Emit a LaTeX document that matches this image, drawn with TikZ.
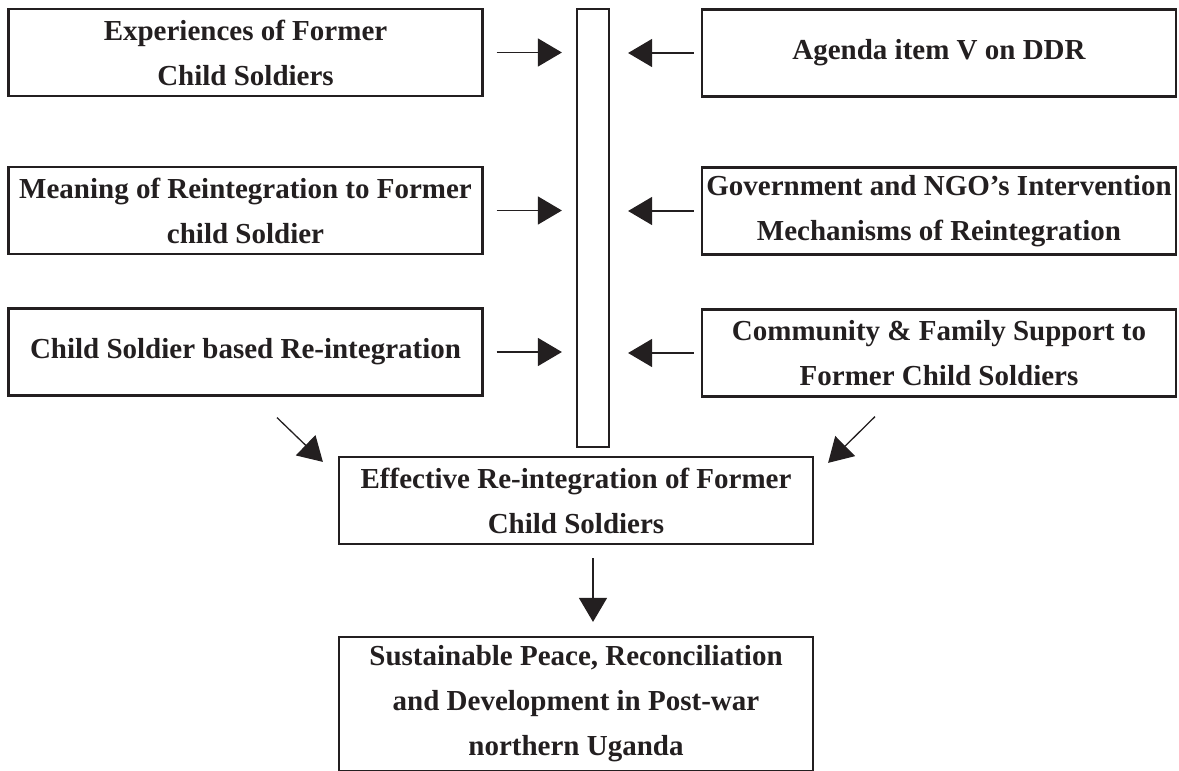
\documentclass[tikz,border=0pt]{standalone}
\usepackage{fontspec}
\setmainfont{Liberation Serif}
\usepackage{xcolor}
\usetikzlibrary{arrows.meta,positioning,calc}

\definecolor{ink}{HTML}{231F20}

\begin{document}
\begin{tikzpicture}[
  x=1pt, y=-1pt,
  box/.style={rectangle, draw=ink, line width=2.2pt, minimum width=474pt, minimum height=87pt, inner sep=2pt,
    text=ink, font=\bfseries\fontsize{29}{45}\selectfont, align=center},
  arrow/.style={-{Triangle[length=24pt,width=28pt]}, line width=1.3pt, draw=ink}
]
\useasboundingbox (0,0) rectangle (1179,771);

% Left column
\node[box] (exp) at (245.5,52.5) {Experiences of Former\\Child Soldiers};
\node[box] (meaning) at (245.5,210.5) {Meaning of Reintegration to Former\\child Soldier};
\node[box] (based) at (245.5,352) {Child Soldier based Re-integration};

% Right column
\node[box] (agenda) at (939,53) {Agenda item V on DDR};
\node[box] (govt) at (939,211) {Government and NGO's Intervention\\Mechanisms of Reintegration};
\node[box] (community) at (939,353) {Community \& Family Support to\\Former Child Soldiers};

% Middle bar
\node[rectangle, draw=ink, line width=2.2pt, minimum width=32pt, minimum height=438pt, inner sep=0pt] (bar) at (593,228) {};

% Outcome boxes
\node[box] (effective) at (576,500.5) {Effective Re-integration of Former\\Child Soldiers};
\node[box, minimum height=134pt] (peace) at (576,704) {Sustainable Peace, Reconciliation\\and Development in Post-war\\northern Uganda};

% Arrows into the bar
\foreach \src in {exp,meaning,based}
  \draw[arrow, shorten <=13pt, shorten >=14pt] (\src.east) -- (\src.east -| bar.west);
\foreach \src in {agenda,govt,community}
  \draw[arrow, shorten <=7pt, shorten >=18pt] (\src.west) -- (\src.west -| bar.east);

% Diagonal arrows
\draw[arrow] ([shift={(31.5,21)}]based.south) -- ([shift={(-15,6)}]effective.north west);
\draw[arrow] ([shift={(-64,19)}]community.south) -- ([shift={(14,7)}]effective.north east);

% Down arrow
\draw[arrow, shorten <=13pt, shorten >=14pt] (effective.south -| bar) -- (peace.north -| bar);

\end{tikzpicture}
\end{document}
